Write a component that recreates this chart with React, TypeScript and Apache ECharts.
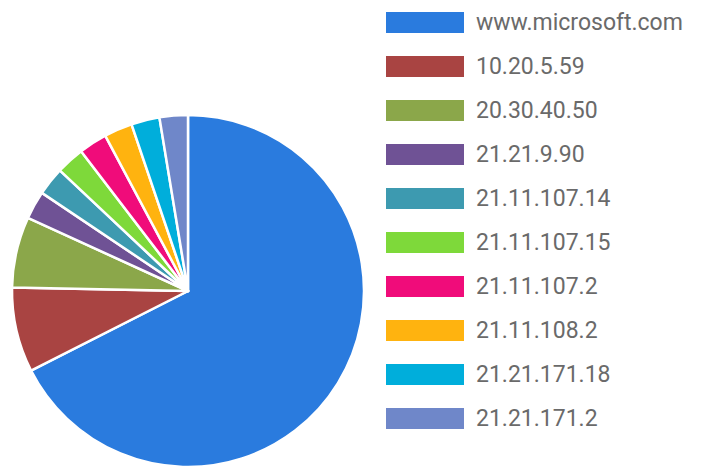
import React, { useEffect, useRef } from "react";
import * as echarts from "echarts";

const categories = [
  "www.microsoft.com",
  "10.20.5.59",
  "20.30.40.50",
  "21.21.9.90",
  "21.11.107.14",
  "21.11.107.15",
  "21.11.107.2",
  "21.11.108.2",
  "21.21.171.18",
  "21.21.171.2",
];
const values = [52, 6, 5, 2, 2, 2, 2, 2, 2, 2];
const colors = [
  "#2a7bde",
  "#a94442",
  "#8ba74a",
  "#6f5295",
  "#3d9ab0",
  "#7ed93a",
  "#f00c7a",
  "#ffb30f",
  "#00aedb",
  "#6f87c9",
];

export default function App() {
  const ref = useRef<HTMLDivElement>(null);
  useEffect(() => {
    const chart = echarts.init(ref.current!, undefined, { renderer: "svg" });
    chart.setOption({
      animation: false,
      color: colors,
      legend: {
        orient: "vertical",
        left: 379,
        top: 5,
        padding: 5,
        itemWidth: 80,
        itemHeight: 23,
        itemGap: 19,
        icon: "rect",
        data: categories,
        textStyle: {
          fontFamily: "Roboto",
          fontSize: 23,
          color: "#6a6a6a",
          padding: [0, 0, 0, 6],
        },
      },
      series: [
        {
          type: "pie",
          center: [188, 291],
          radius: 176,
          startAngle: 90,
          clockwise: true,
          label: { show: false },
          labelLine: { show: false },
          itemStyle: { borderColor: "#fff", borderWidth: 2.5 },
          emphasis: { disabled: true },
          data: categories.map((name, i) => ({ name, value: values[i] })),
        },
      ],
    });
    return () => chart.dispose();
  }, []);
  return (
    <div
      ref={ref}
      style={{ position: "absolute", left: 0, top: 0, width: 702, height: 466 }}
    />
  );
}
